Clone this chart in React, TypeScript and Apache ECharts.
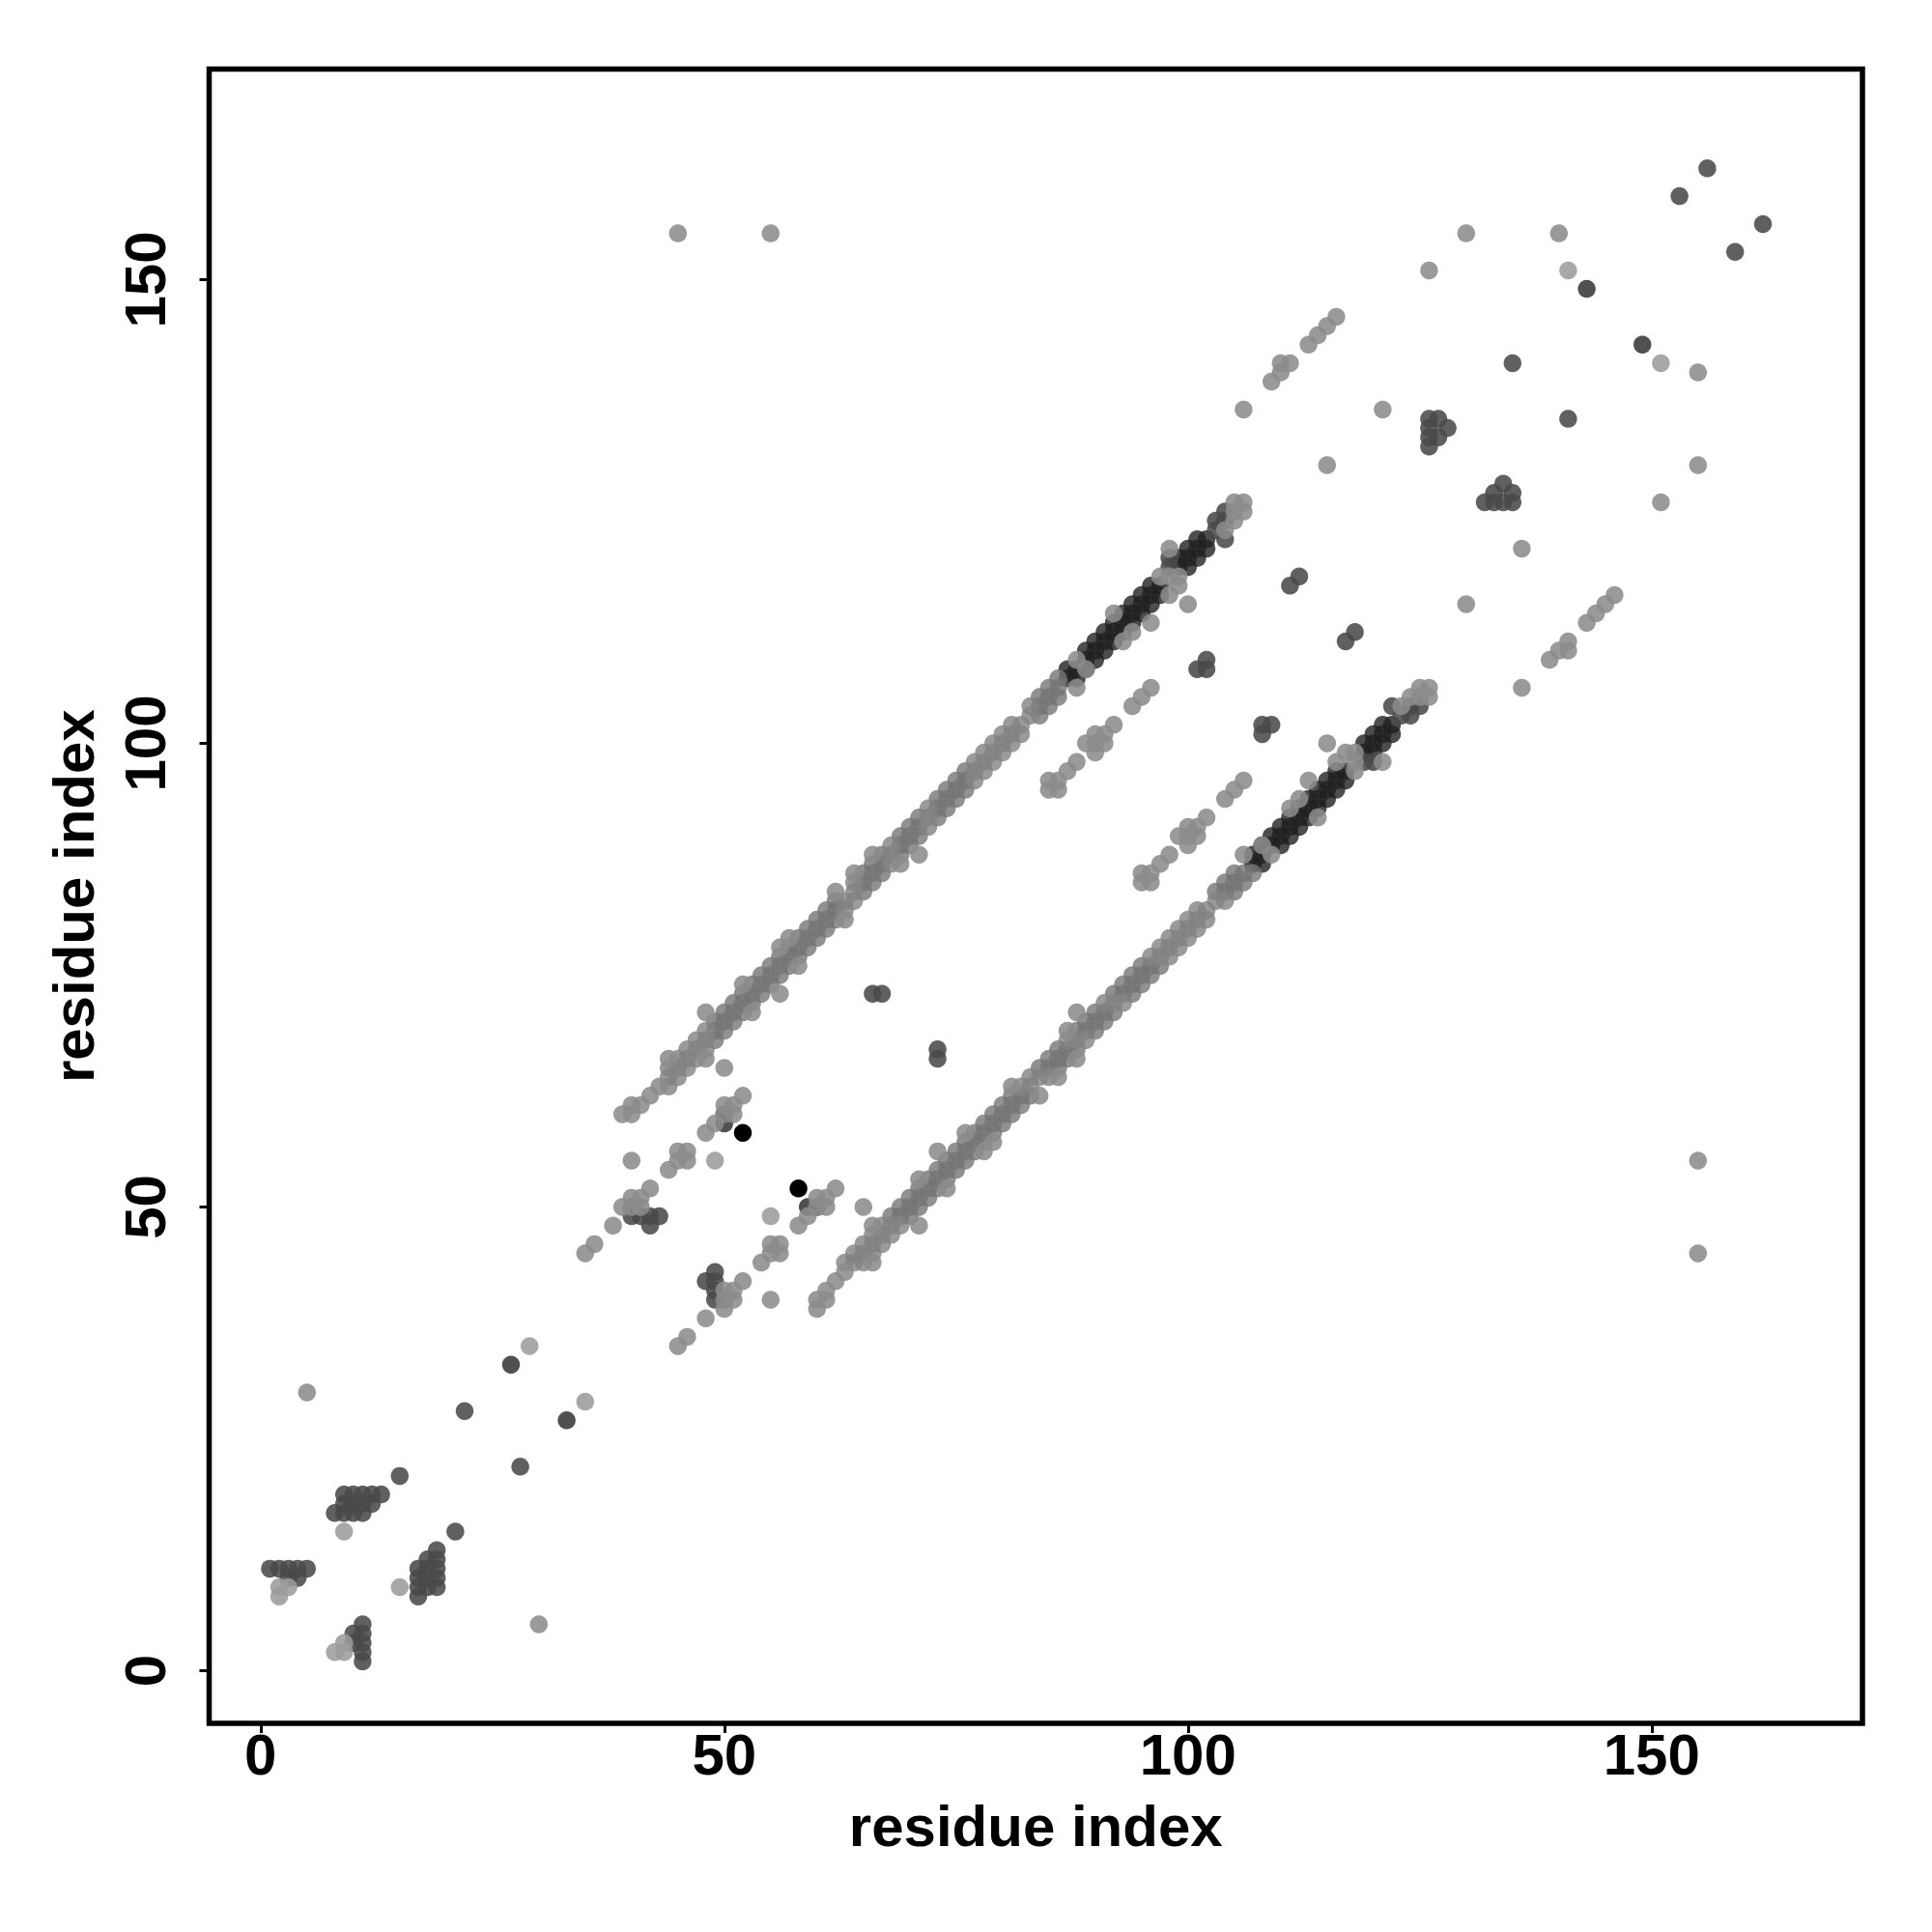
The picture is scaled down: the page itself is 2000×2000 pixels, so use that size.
import React, { useEffect, useRef } from "react";
import * as echarts from "echarts";

// Contact map: each row is [residue, partner residues...] above the diagonal.
// The map is symmetric, so the lower half is the same reading flipped.
const tickValues = [0, 50, 100, 150];
const axisTitle = "residue index";

const paleRows = [
  [2, 8, 9], [3, 9], [9, 15], [29, 35], [49, 55], [141, 151],
];

const lightRows = [
  [5, 30], [35, 45], [36, 46], [38, 48], [39, 50, 60], [40, 50, 51, 55, 60, 61], [41, 50, 51, 61], [42, 52, 62], [43, 63],
  [44, 54, 66], [45, 55, 56, 155], [46, 55, 56], [48, 58, 66, 71], [49, 59], [50, 60, 61, 65], [51, 60, 61], [52, 62, 74], [53, 71],
  [55, 155], [56, 73, 78], [57, 79], [58, 76], [62, 84], [63, 81], [64, 86], [66, 88], [69, 87], [71, 88],
  [85, 95, 96], [86, 95, 96], [87, 97], [88, 98, 106, 109], [89, 100, 108], [90, 99, 100, 101], [91, 100, 101], [92, 102, 114], [93, 111],
  [94, 104, 112], [95, 105], [96, 106, 113], [97, 118], [98, 116, 118, 121], [99, 117, 118], [100, 115],
  [104, 123], [105, 124, 125, 126], [106, 125, 126, 136], [109, 139], [110, 140, 141], [111, 141], [113, 143], [114, 144], [115, 130, 145],
  [116, 146], [121, 136], [126, 151], [130, 155], [140, 155],
];

const bandPaleRows = [
  [44, 63, 64, 65], [45, 64, 65, 66], [46, 65, 66, 67], [47, 66, 67, 68], [48, 67, 68, 69], [63, 82, 83], [64, 83, 84, 85], [68, 87, 88, 89],
  [72, 91, 92, 93], [77, 96, 97, 98], [78, 97, 98, 99], [79, 98, 99, 100], [80, 99, 100, 101], [81, 100, 101, 102], [82, 101, 102], [83, 103, 104],
];

const bandRows = [
  [49, 68, 69, 70], [50, 69, 70, 71], [51, 70, 71, 72], [52, 71, 72, 73], [53, 72, 73, 74], [54, 73, 74, 75], [55, 74, 75, 76], [56, 75, 76, 77],
  [57, 76, 77, 78], [58, 77, 78, 79], [59, 78, 79, 80], [60, 79, 80, 81], [61, 80, 81, 82], [62, 81, 82, 83], [65, 84, 85, 86], [66, 85, 86, 87],
  [67, 86, 87, 88], [69, 88, 89, 90], [70, 89, 90, 91], [71, 90, 91, 92], [73, 92, 93, 94], [74, 93, 94, 95], [75, 94, 95, 96], [76, 95, 96, 97],
  [84, 103, 104, 105], [85, 104, 105, 106], [86, 105, 106, 107],
];

const darkRows = [
  [1, 11], [2, 11], [3, 10, 11], [4, 10, 11], [5, 11], [8, 17], [9, 17, 18, 19], [10, 17, 18, 19], [11, 17, 18, 19], [12, 18, 19], [13, 19],
  [15, 21], [22, 28], [40, 49, 50], [41, 49], [42, 48, 49], [43, 49], [66, 73], [67, 73], [98, 119, 120], [101, 108], [102, 108, 109],
  [103, 123, 124], [104, 122, 124, 125], [111, 117], [112, 118], [126, 132, 133, 134, 135], [127, 133, 135], [128, 134], [135, 141],
  [153, 159], [156, 162],
];

const deepRows = [
  [27, 33], [50, 59, 60], [143, 149],
];

const chainRows = [
  [87, 107, 108], [88, 107, 108], [89, 108, 109, 110], [90, 109, 110, 111], [91, 110, 111, 112], [92, 111, 112, 113], [93, 112, 113, 114],
  [94, 113, 114, 115], [95, 114, 115, 116], [96, 115, 116, 117], [97, 116, 117], [99, 119, 120], [100, 119, 120, 121], [101, 120, 121, 122],
  [102, 121, 122],
];

const blackRows = [[52, 58]];

const expand = (rows: number[][]) => {
  const pairs: number[][] = [];
  rows.forEach(([a, ...partners]) => partners.forEach((b) => { pairs.push([a, b]); pairs.push([b, a]); }));
  return pairs;
};

const dots = (rows: number[][], color: string) => ({
  type: "scatter",
  symbol: "circle",
  symbolSize: 18.5,
  data: expand(rows),
  itemStyle: { color, borderWidth: 0, opacity: 1 },
  silent: true,
});

const font = { color: "#000", fontFamily: "'Liberation Sans'", fontWeight: "bold", fontSize: 60 };

export default function App() {
  const ref = useRef<HTMLDivElement>(null);
  useEffect(() => {
    const chart = echarts.init(ref.current!, null, { renderer: "svg" });
    chart.setOption({
      animation: false,
      backgroundColor: "#fff",
      grid: { left: 216.5, top: 71.4, width: 1711.5, height: 1712.6, show: true, borderColor: "#000", borderWidth: 5.5, backgroundColor: "transparent" },
      xAxis: {
        type: "value", min: -5.55, max: 172.73,
        name: axisTitle, nameLocation: "middle", nameGap: 76, nameTextStyle: font,
        splitLine: { show: false }, axisLine: { show: false, onZero: false },
        axisTick: { length: 10, lineStyle: { color: "#000", width: 3 }, customValues: tickValues },
        axisLabel: { ...font, margin: 2, customValues: tickValues },
      },
      yAxis: {
        type: "value", min: -5.68, max: 172.72,
        name: axisTitle, nameLocation: "middle", nameGap: 110, nameRotate: 90, nameTextStyle: font,
        splitLine: { show: false }, axisLine: { show: false, onZero: false },
        axisTick: { length: 10, lineStyle: { color: "#000", width: 3 }, customValues: tickValues },
        axisLabel: { ...font, margin: 66, rotate: 90, customValues: tickValues, align: "center", verticalAlign: "middle" },
      },
      series: [
        dots(chainRows, "rgba(32,32,32,0.8)"),
        dots(deepRows, "rgba(55,55,55,0.875)"),
        dots(darkRows, "rgba(73,73,73,0.875)"),
        dots(bandRows, "rgba(118,118,118,0.8)"),
        dots(bandPaleRows, "rgba(130,130,130,0.8)"),
        dots(lightRows, "rgba(139,139,139,0.875)"),
        dots(paleRows, "rgba(155,155,155,0.875)"),
        dots(blackRows, "#000"),
      ],
    });
    return () => chart.dispose();
  }, []);
  return <div ref={ref} style={{ position: "absolute", left: 0, top: 0, width: 2000, height: 2000 }} />;
}
